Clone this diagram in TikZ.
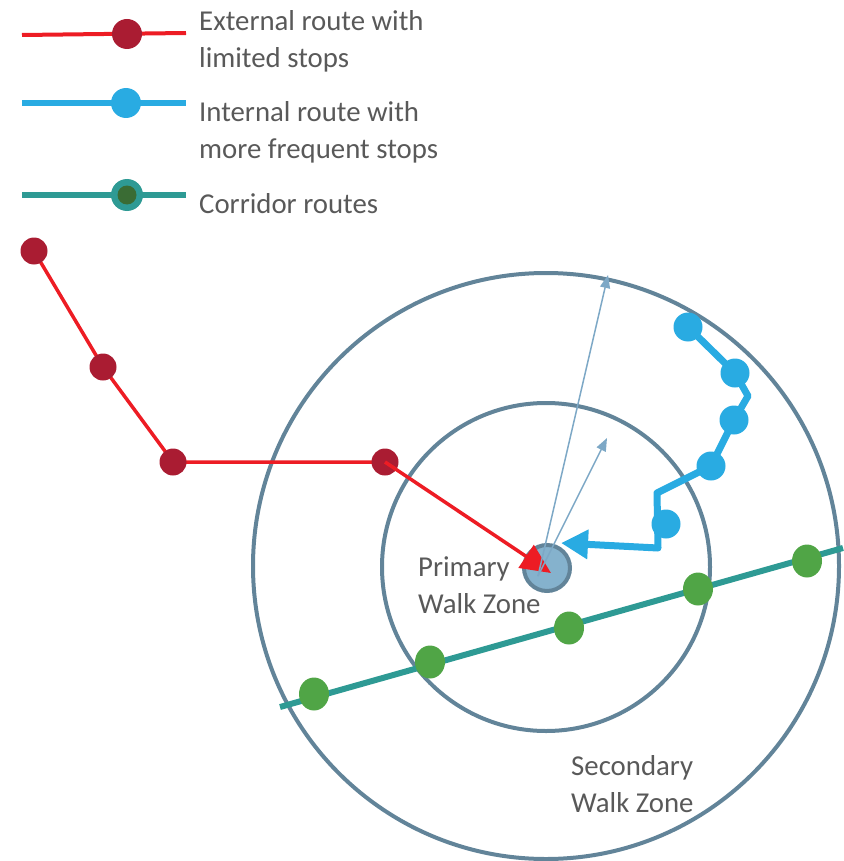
\documentclass[tikz,border=0pt]{standalone}
\usepackage{fontspec}
\setmainfont{Carlito}
\usetikzlibrary{arrows.meta}
\definecolor{ringgray}{RGB}{98,132,153}
\definecolor{hubblue}{RGB}{133,178,205}
\definecolor{routered}{RGB}{237,28,36}
\definecolor{stopred}{RGB}{170,28,50}
\definecolor{routeblue}{RGB}{41,171,226}
\definecolor{routeteal}{RGB}{46,154,148}
\definecolor{stopgreen}{RGB}{80,165,70}
\definecolor{stopdark}{RGB}{58,108,52}
\definecolor{rayblue}{RGB}{125,168,198}
\definecolor{textgray}{RGB}{89,89,89}
\tikzset{
  ring/.style={draw=ringgray, line width=4pt},
  redroute/.style={draw=routered, line width=3.5pt},
  blueroute/.style={draw=routeblue, line width=7pt, line join=round},
  tealroute/.style={draw=routeteal, line width=6pt},
  redstop/.style={circle, fill=stopred, minimum size=27pt, inner sep=0pt},
  bluestop/.style={circle, fill=routeblue, minimum size=29pt, inner sep=0pt},
  greenstop/.style={ellipse, fill=stopgreen, minimum width=30pt, minimum height=33pt, inner sep=0pt},
  ray/.style={draw=rayblue, line width=1.5pt, -{Triangle[length=13pt,width=10pt]}},
  label/.style={text=textgray, font=\fontsize{28.8}{37}\selectfont, align=left, inner sep=0pt}
}
\usetikzlibrary{shapes.geometric}

\begin{document}
\begin{tikzpicture}[x=1pt,y=-1pt]
			%%%%% START %%%%%
			\useasboundingbox (0,0) rectangle (843,861);
			
			% legend
			\draw[redroute, line width=4pt] (22,35) -- (186,33);
			\node[redstop, minimum size=30pt] (lred) at (127,34) {};
			\draw[blueroute, line width=6pt] (22,103) -- (186,103);
			\node[bluestop, minimum size=30pt] (lblue) at (126,103) {};
			\draw[tealroute] (22,195) -- (186,195);
			\node[circle, fill=routeteal, minimum size=32pt, inner sep=0pt] (lteal) at (127,195) {};
			\node[circle, fill=stopdark, minimum size=19pt, inner sep=0pt] at (lteal) {};
			
			% text anchors sit on the last line
			\node[label, anchor=base west] (ltxt1) at (199,68) {External route with\\limited stops};
			\node[label, anchor=base west] (ltxt2) at (199,159) {Internal route with\\more frequent stops};
			\node[label, anchor=base west] (ltxt3) at (199,213) {Corridor routes};
			
			% walk zones
			\draw[ring] (546,566) circle[radius=293];
			\draw[ring] (546,567) circle[radius=164];
			
			\node[label, anchor=base west] (primary) at (418,613) {Primary\\Walk Zone};
			\node[label, anchor=base west] (secondary) at (571,812) {Secondary\\Walk Zone};
			
			% corridor route
			\coordinate (g0) at (280,707);
			\coordinate (g6) at (843,548);
			\draw[tealroute] (g0) -- (g6);
			\node[greenstop] (g1) at (314,694) {};
			\node[greenstop] (g2) at (430,662) {};
			\node[greenstop] (g3) at (569,628) {};
			\node[greenstop] (g4) at (698,589) {};
			\node[greenstop] (g5) at (807,561) {};
			
			% hub
			\node[circle, draw=ringgray, fill=hubblue, line width=4pt, minimum size=46pt, inner sep=0pt] (hub) at (547,568) {};
			
			% external route
			\coordinate (r1) at (34,251);
			\coordinate (r2) at (103,367);
			\coordinate (r3) at (173,462);
			\coordinate (r4) at (385,462);
			\coordinate (rtip) at (551,573);
			\draw[redroute] (r1) -- (r2) -- (r3) -- (r4);
			\node[redstop] at (r1) {};
			\node[redstop] at (r2) {};
			\node[redstop] at (r3) {};
			\node[redstop] at (r4) {};
			\draw[redroute, -{Triangle[length=30pt,width=27pt]}] (r4) -- (rtip);
			
			% internal route
			\coordinate (b1) at (688,327);
			\coordinate (b2) at (735,373);
			\coordinate (bk1) at (748,396);
			\coordinate (b3) at (734,420);
			\coordinate (b4) at (711,466);
			\coordinate (bk2) at (657,493);
			\coordinate (bk3) at (658,548);
			\coordinate (b5) at (666,524);
			\coordinate (btip) at (561,543);
			\draw[blueroute, -{Triangle[length=27pt,width=28pt]}] (b1) -- (b2) -- (bk1) -- (b3) -- (b4) -- (bk2) -- (bk3) -- (btip);
			\node[bluestop] at (b1) {};
			\node[bluestop] at (b2) {};
			\node[bluestop] at (b3) {};
			\node[bluestop] at (b4) {};
			\node[bluestop] at (b5) {};
			
			% reach of the zones
			\coordinate (raybase) at (538,576);
			\draw[ray] (raybase) -- (608,275);
			\draw[ray] (raybase) -- (607,438);
			
			%%%%% END %%%%%
\end{tikzpicture}
\end{document}
